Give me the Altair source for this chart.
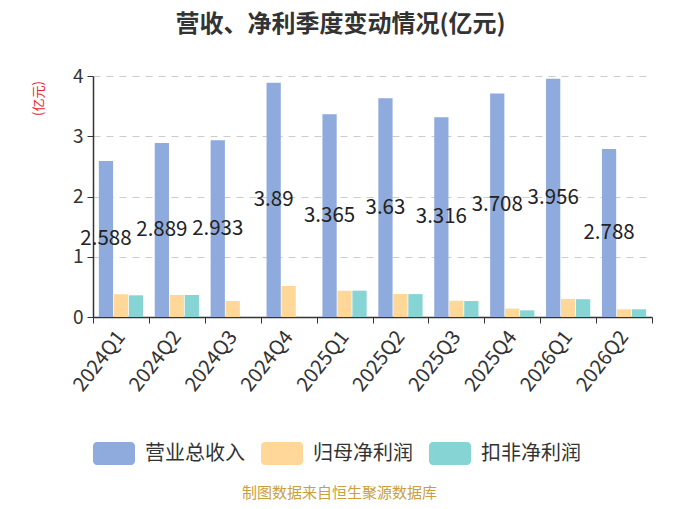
import altair as alt
import pandas as pd

quarters = ["2024Q1", "2024Q2", "2024Q3", "2024Q4", "2025Q1",
            "2025Q2", "2025Q3", "2025Q4", "2026Q1", "2026Q2"]
series_names = ["营业总收入", "归母净利润", "扣非净利润"]
revenue = [2.588, 2.889, 2.933, 3.89, 3.365, 3.63, 3.316, 3.708, 3.956, 2.788]
net_profit = [0.377, 0.365, 0.266, 0.515, 0.437, 0.382, 0.27, 0.14, 0.30, 0.128]
deducted_profit = [0.36, 0.365, None, None, 0.437, 0.38, 0.265, 0.11, 0.295, 0.128]
colors = ["#8faadc", "#ffd899", "#86d4d4"]

FONT = "Noto Sans CJK SC"

rows = []
for name, values in zip(series_names, [revenue, net_profit, deducted_profit]):
    for q, v in zip(quarters, values):
        if v is not None:
            rows.append({"quarter": q, "series": name, "value": v})
frame = pd.DataFrame(rows)

# wide rounded swatch for the legend
swatch = ("M-1.476,-1 H1.476 A0.35,0.35 0 0 1 1.826,-0.65 V0.65 "
          "A0.35,0.35 0 0 1 1.476,1 H-1.476 A0.35,0.35 0 0 1 -1.826,0.65 "
          "V-0.65 A0.35,0.35 0 0 1 -1.476,-1 Z")

x_enc = alt.X(
    "quarter:N",
    sort=quarters,
    scale=alt.Scale(paddingInner=0, paddingOuter=0),
    axis=alt.Axis(
        title="制图数据来自恒生聚源数据库",
        titleColor="#c9a03c",
        titleFont=FONT,
        titleFontSize=15,
        titleFontWeight="normal",
        titleX=246,
        titleY=183,
        titleAlign="center",
        titleBaseline="bottom",
        labelAngle=-52,
        labelAlign="right",
        labelBaseline="middle",
        labelFont=FONT,
        labelFontSize=20,
        labelColor="#333333",
        labelPadding=10,
        tickBand="extent",
        tickSize=6,
        tickColor="#333333",
        domainColor="#333333",
        domainWidth=1.5,
        grid=False,
    ),
)
xoff_enc = alt.XOffset(
    "series:N",
    sort=series_names,
    scale=alt.Scale(paddingInner=0.05, paddingOuter=0.39),
)

bars = alt.Chart(frame).mark_bar().encode(
    x=x_enc,
    xOffset=xoff_enc,
    y=alt.Y(
        "value:Q",
        scale=alt.Scale(domain=[0, 4], nice=False),
        axis=alt.Axis(
            title="(亿元)",
            titleColor="#e8262d",
            titleFont=FONT,
            titleFontSize=13,
            titleFontWeight="normal",
            titleAngle=-90,
            titleX=-55,
            titleY=22,
            titleAlign="center",
            titleBaseline="middle",
            values=[0, 1, 2, 3, 4],
            format="d",
            labelFont=FONT,
            labelFontSize=19,
            labelColor="#333333",
            labelPadding=4,
            tickSize=6,
            tickColor="#333333",
            domainColor="#333333",
            domainWidth=1.5,
            grid=True,
            gridColor="#cccccc",
            gridDash=[7, 6],
            gridWidth=1,
        ),
    ),
    color=alt.Color(
        "series:N",
        sort=series_names,
        scale=alt.Scale(domain=series_names, range=colors),
        legend=alt.Legend(
            title=None,
            orient="none",
            direction="horizontal",
            legendX=9.5,
            legendY=366,
            symbolType=swatch,
            symbolSize=529,
            symbolStrokeWidth=0,
            symbolOpacity=1,
            labelFont=FONT,
            labelFontSize=20,
            labelColor="#333333",
            labelOffset=19.5,
            columnPadding=15,
            padding=0,
        ),
    ),
)

labels = alt.Chart(frame).transform_filter(
    alt.datum.series == "营业总收入"
).transform_calculate(
    mid="datum.value / 2"
).mark_text(
    font=FONT, fontSize=20.5, color="#222222", align="center", baseline="middle"
).encode(
    x=alt.X("quarter:N", sort=quarters),
    xOffset=alt.XOffset("series:N", sort=series_names),
    y=alt.Y("mid:Q"),
    text=alt.Text("value:Q", format="~g"),
)

chart = alt.layer(bars, labels).properties(
    width=559,
    height=241,
    autosize=alt.AutoSizeParams(type="none"),
    padding={"left": 85, "top": 68, "right": 18, "bottom": 184},
    title=alt.TitleParams(
        "营收、净利季度变动情况(亿元)",
        font=FONT,
        fontSize=24,
        fontWeight="bold",
        color="#333333",
        anchor="middle",
        frame="group",
        dx=-32,
        offset=30,
    ),
).configure_view(stroke=None)

chart.save("out.html", embed_options={"renderer": "svg", "actions": False})
